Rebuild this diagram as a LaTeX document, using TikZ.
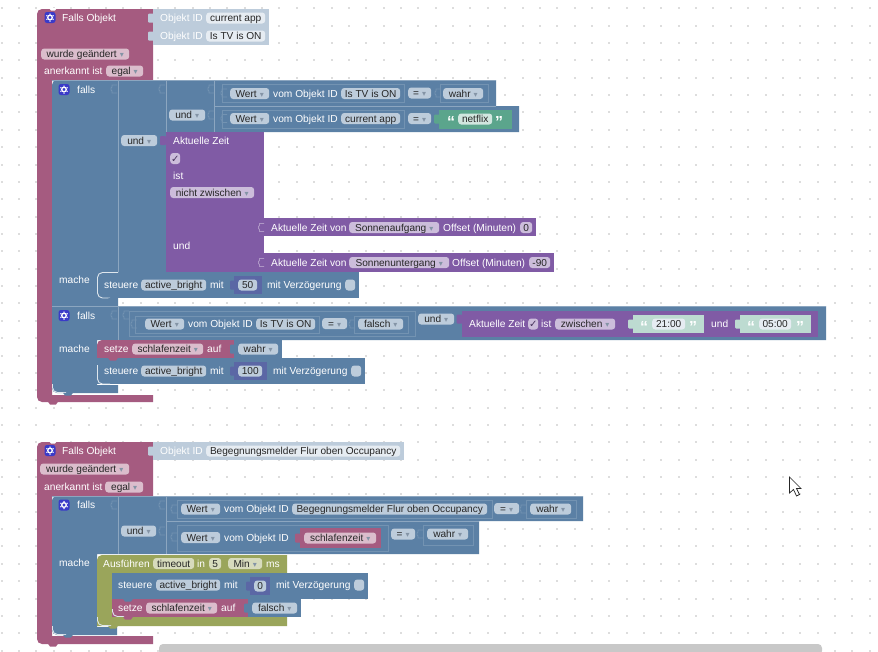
\documentclass[tikz,border=0pt]{standalone}
\usepackage{fontspec}
\usepackage{xcolor}
\setmainfont{Liberation Sans}
\newfontfamily\symfont{DejaVu Sans}
\usetikzlibrary{positioning,calc}

\definecolor{pinkb}{HTML}{A55B80}
\definecolor{pinkt}{HTML}{DBBDCC}
\definecolor{blueb}{HTML}{5B80A5}
\definecolor{bluet}{HTML}{BDCCDB}
\definecolor{bluel}{HTML}{8CA6C0}
\definecolor{purpb}{HTML}{805BA5}
\definecolor{purpt}{HTML}{CCBDDB}
\definecolor{greenb}{HTML}{5BA58C}
\definecolor{greent}{HTML}{BDDBD1}
\definecolor{oliveb}{HTML}{9AA55B}
\definecolor{olivet}{HTML}{D7DBBD}
\definecolor{indigob}{HTML}{5B67A5}
\definecolor{gearb}{HTML}{3A3AC8}
\definecolor{shadowp}{HTML}{E6ECF2}
\definecolor{dotc}{HTML}{DDDDDD}
\definecolor{dropc}{HTML}{8494A6}
\definecolor{barc}{HTML}{C8C8C8}

\newcommand{\dropm}{\hspace{3pt}{\symfont\fontsize{8}{8}\selectfont\textcolor{dropc}{▾}}}

\begin{document}
\begin{tikzpicture}[
    x=1pt, y=-1pt,
    lbl/.style={anchor=west, inner sep=0pt, text=white, text height=7.6pt, text depth=0pt, font=\fontsize{10.2}{12}\selectfont},
    pill/.style={anchor=west, inner sep=0pt, rounded corners=3pt, minimum height=11pt, text=black!85, text height=7.6pt, text depth=0pt, font=\fontsize{10.1}{12}\selectfont},
    pillb/.style={pill, fill=bluet},
    pillp/.style={pill, fill=pinkt},
    pillu/.style={pill, fill=purpt},
    pillg/.style={pill, fill=greent!70!white},
    pillo/.style={pill, fill=olivet},
    pills/.style={pill, fill=shadowp},
    checkb/.style={pill, fill=bluet, minimum width=10pt},
    checku/.style={pill, fill=purpt, minimum width=10pt, text=purpb!55!black, font=\symfont\fontsize{10}{10}\selectfont},
    quot/.style={anchor=center, inner sep=0pt, text=white, font=\bfseries\fontsize{16}{16}\selectfont},
    edge/.style={draw=bluel, line width=0.8pt},
    inbox/.style={draw=bluel!50!blueb, line width=0.8pt},
    corner/.style={draw=white!80!blueb, line width=0.9pt, rounded corners=5pt},
    tabline/.style={draw=bluel!50!blueb, line width=0.8pt},
    gearicon/.pic={
        \fill[gearb, rounded corners=2.5pt] (-5.5,-5.5) rectangle (5.5,5.5);
        \foreach \a in {30,90,...,330} {\fill[white] (\a:3.5) circle (0.75);}
        \draw[white, line width=1.3pt] (0,0) circle (2.3);
    }
]

\useasboundingbox (0,0) rectangle (878,651);
\fill[white] (0,0) rectangle (878,651);

% Workspace dots
\foreach \i in {0,...,50} {
    \foreach \j in {0,...,37} {
        \fill[dotc] ({1.7+17.36*\i-1},{8.3+17.36*\j-1}) rectangle ++(2,2);
    }
}

% First trigger block
\fill[pinkb] (153,402) [rounded corners=5pt] -- (37,402) -- (37,9) -- (62,9) [sharp corners] -- (153,9) -- (153,80) -- (52,80) -- (52,395) -- (153,395) -- cycle;
\pic at (50,17.5) {gearicon};
\node[lbl] (head1) at (62,17.5) {Falls Objekt};
\fill[bluet] (153,9) rectangle (269,45);
\node[lbl] (id1) at (160,18) {Objekt ID};
\node[pills, minimum width=59pt] (app1) at (206,18) {current app};
\node[lbl] (id2) at (160,36) {Objekt ID};
\node[pills, minimum width=59pt] (tv1) at (206,36) {Is TV is ON};
\node[pillp, minimum width=88pt] (chg1) at (41,54) {wurde geändert\dropm};
\node[lbl] (ack1) at (44,71) {anerkannt ist};
\node[pillp, minimum width=37pt] (any1) at (106,71) {egal\dropm};

% First condition
\fill[blueb] (52,86) [rounded corners=5pt] -- (52,80) -- (60,80) [sharp corners] -- (496,80) -- (496,106) -- (519,106) -- (519,132) -- (166,132) -- (166,272) -- (118,272) -- (118,306) -- (52,306) -- cycle;
\draw[edge] (52,80.4) -- (496,80.4);
\draw[edge] (118,80) -- (118,272);
\draw[edge] (166,80) -- (166,132);
\draw[edge] (214,80) -- (214,132);
\draw[edge] (214,106) -- (496,106);
\pic at (64,89.5) {gearicon};
\node[lbl] (if1) at (77,89.5) {falls};
\node[pillb, minimum width=36pt] (and1) at (169,115) {und\dropm};
\node[pillb, minimum width=36pt] (and2) at (121,140.5) {und\dropm};

% Compare rows
\draw[inbox] (222,84) rectangle (404,102.5);
\node[pillb, minimum width=39pt] (val1) at (230,93.5) {Wert\dropm};
\node[lbl] (of1) at (273,93.5) {vom Objekt ID};
\node[pillb, minimum width=59pt] (tv2) at (341,93.5) {Is TV is ON};
\node[pillb, minimum width=23pt] (eq1) at (408,93) {=\dropm};
\draw[inbox] (440,84) rectangle (488,102.5);
\node[pillb, minimum width=40pt] (yes1) at (443,93.5) {wahr\dropm};

\draw[inbox] (222,110) rectangle (404,128);
\node[pillb, minimum width=39pt] (val2) at (230,118.5) {Wert\dropm};
\node[lbl] (of2) at (273,118.5) {vom Objekt ID};
\node[pillb, minimum width=59pt] (app2) at (341,118.5) {current app};
\node[pillb, minimum width=23pt] (eq2) at (408,118.5) {=\dropm};
\fill[greenb] (439,110) rectangle (512,129);
\node[quot] (qa1) at (451,122) {“};
\node[pillg, minimum width=34pt] (nf1) at (458,119) {netflix};
\node[quot] (qb1) at (499,122) {”};

% Time block
\fill[purpb] (166,132) rectangle (264,272);
\fill[purpb] (264,218) rectangle (536,236);
\fill[purpb] (264,253) rectangle (554,271.5);
\node[lbl] (now1) at (173,140.5) {Aktuelle Zeit};
\node[checku] (chk1) at (170,158.5) {✓};
\node[lbl] (is1) at (173,175.5) {ist};
\node[pillu, minimum width=84pt] (nb1) at (170,192.5) {nicht zwischen\dropm};
\node[lbl] (and3) at (173,245.5) {und};
\node[lbl] (tm1) at (271,227.5) {Aktuelle Zeit von};
\node[pillu, minimum width=90pt] (sun1) at (349,227.5) {Sonnenaufgang\dropm};
\node[lbl] (off1) at (443,227.5) {Offset (Minuten)};
\node[pillu, minimum width=12pt] (num1) at (520,227.5) {0};
\node[lbl] (tm2) at (271,262.5) {Aktuelle Zeit von};
\node[pillu, minimum width=100pt] (sun2) at (349,262.5) {Sonnenuntergang\dropm};
\node[lbl] (off2) at (452,262.5) {Offset (Minuten)};
\node[pillu, minimum width=21pt] (num2) at (529,262.5) {-90};

% First action
\node[lbl] (do1) at (59,280) {mache};
\fill[blueb] (97,272) rectangle (359,298);
\draw[corner] (118,272.5) -- (97.5,272.5) -- (97.5,298) -- (110,298);
\node[lbl] (set1) at (104,285) {steuere};
\node[pillb, minimum width=65pt] (st1) at (141,285) {active\_bright};
\node[lbl] (by1) at (210,285) {mit};
\fill[indigob] (234,276) rectangle (262,294);
\node[pillb, minimum width=19pt] (num3) at (238,285) {50};
\node[lbl] (dl1) at (267,285) {mit Verzögerung};
\node[checkb] (chk2) at (345,285) {};

% Second condition
\fill[blueb] (52,306) -- (826,306) -- (826,340) -- (97,340) -- (97,385) -- (118,385) -- (118,393) [rounded corners=5pt] -- (52,393) -- (52,306) -- cycle;
\draw[edge] (52,306.4) -- (826,306.4);
\draw[edge] (118,306) -- (118,340);
\draw[corner] (52.5,384) -- (52.5,392.5) -- (66,392.5);
\pic at (64,315.5) {gearicon};
\node[lbl] (if2) at (77,315.5) {falls};
\draw[inbox] (129,311.5) rectangle (415,336.5);
\draw[inbox] (135,316) rectangle (319,333);
\node[pillb, minimum width=39pt] (val3) at (145,324) {Wert\dropm};
\node[lbl] (of3) at (188,324) {vom Objekt ID};
\node[pillb, minimum width=59pt] (tv3) at (256,324) {Is TV is ON};
\node[pillb, minimum width=25pt] (eq3) at (322,323.5) {=\dropm};
\draw[inbox] (354,316) rectangle (408,333);
\node[pillb, minimum width=45pt] (no1) at (358,324) {falsch\dropm};
\node[pillb, minimum width=36pt] (and4) at (418,319) {und\dropm};
\fill[purpb] (462,311) rectangle (818,337);
\node[lbl] (now2) at (469,324) {Aktuelle Zeit};
\node[checku] (chk3) at (528,324) {✓};
\node[lbl] (is2) at (541,324) {ist};
\node[pillu, minimum width=60pt] (bt1) at (555,324) {zwischen\dropm};
\fill[greent] (633,315) rectangle (704,333);
\node[quot] (qa2) at (644,327) {“};
\node[pills, minimum width=33pt] (tm3) at (652,324) {21:00};
\node[quot] (qb2) at (693,327) {”};
\node[lbl] (and5) at (711,324) {und};
\fill[greent] (740,315) rectangle (811,333);
\node[quot] (qa3) at (751,327) {“};
\node[pills, minimum width=32pt] (tm4) at (759,324) {05:00};
\node[quot] (qb3) at (800,327) {”};

% Second action
\node[lbl] (do2) at (59,349) {mache};
\fill[pinkb] (234,358) -- (97,358) [rounded corners=5pt] -- (97,340) -- (110,340) [sharp corners] -- (234,340) -- cycle;
\node[lbl] (put1) at (104,349) {setze};
\node[pillp, minimum width=71pt] (var1) at (132,349) {schlafenzeit\dropm};
\node[lbl] (to1) at (207,349) {auf};
\fill[blueb] (234,340) rectangle (282,358);
\node[pillb, minimum width=40pt] (yes2) at (238,349) {wahr\dropm};
\fill[blueb] (97,358) rectangle (365,384);
\draw[corner] (97.5,365) -- (97.5,384) -- (110,384);
\node[lbl] (set2) at (104,371) {steuere};
\node[pillb, minimum width=65pt] (st2) at (141,371) {active\_bright};
\node[lbl] (by2) at (210,371) {mit};
\fill[indigob] (234,362) rectangle (267,380);
\node[pillb, minimum width=24pt] (num4) at (238,371) {100};
\node[lbl] (dl2) at (273,371) {mit Verzögerung};
\node[checkb] (chk4) at (351,371) {};

% Second trigger block
\fill[pinkb] (153,644) [rounded corners=5pt] -- (37,644) -- (37,442) -- (62,442) [sharp corners] -- (153,442) -- (153,496) -- (52,496) -- (52,636) -- (153,636) -- cycle;
\pic at (50,450.5) {gearicon};
\node[lbl] (head2) at (62,450.5) {Falls Objekt};
\fill[bluet] (153,442) rectangle (404,460);
\node[lbl] (id3) at (160,451) {Objekt ID};
\node[pills, minimum width=194pt] (mot1) at (206,451) {Begegnungsmelder Flur oben Occupancy};
\node[pillp, minimum width=89pt] (chg2) at (40,469) {wurde geändert\dropm};
\node[lbl] (ack2) at (44,487) {anerkannt ist};
\node[pillp, minimum width=38pt] (any2) at (105,487) {egal\dropm};

% Third condition
\fill[blueb] (52,502) [rounded corners=5pt] -- (52,496) -- (60,496) [sharp corners] -- (583,496) -- (583,521) -- (479,521) -- (479,554) -- (118,554) -- (97,554) -- (97,627) -- (117,627) -- (117,635) [rounded corners=5pt] -- (52,635) -- (52,496) -- cycle;
\draw[edge] (52,496.4) -- (583,496.4);
\draw[edge] (118,496) -- (118,554);
\draw[edge] (166,496) -- (166,554);
\draw[edge] (166,521) -- (479,521);
\draw[corner] (52.5,626) -- (52.5,634.5) -- (66,634.5);
\pic at (64,505) {gearicon};
\node[lbl] (if3) at (77,505) {falls};
\node[pillb, minimum width=35pt] (and6) at (121,531) {und\dropm};
\draw[inbox] (177,500) rectangle (492,518);
\node[pillb, minimum width=39pt] (val4) at (181,509) {Wert\dropm};
\node[lbl] (of4) at (224,509) {vom Objekt ID};
\node[pillb, minimum width=195pt] (mot2) at (292,509) {Begegnungsmelder Flur oben Occupancy};
\node[pillb, minimum width=25pt] (eq4) at (494,508.5) {=\dropm};
\draw[inbox] (526,500) rectangle (576,518);
\node[pillb, minimum width=41pt] (yes3) at (530,509) {wahr\dropm};
\draw[inbox] (177,525) rectangle (388,551);
\node[pillb, minimum width=39pt] (val5) at (181,537.5) {Wert\dropm};
\node[lbl] (of5) at (224,537.5) {vom Objekt ID};
\fill[pinkb] (300,528) rectangle (381,548);
\node[pillp, minimum width=72pt] (var2) at (304,538) {schlafenzeit\dropm};
\node[pillb, minimum width=24pt] (eq5) at (391,534) {=\dropm};
\draw[inbox] (423,525) rectangle (473,545);
\node[pillb, minimum width=41pt] (yes4) at (427,534) {wahr\dropm};

% Timeout block
\node[lbl] (do3) at (59,563) {mache};
\fill[oliveb] (287,626) -- (97,626) [rounded corners=5pt] -- (97,555) -- (110,555) [sharp corners] -- (287,555) -- (287,573) -- (112,573) -- (112,617) -- (287,617) -- cycle;
\draw[corner] (97.5,617) -- (97.5,625.5) -- (111,625.5);
\node[lbl] (run1) at (103,563.5) {Ausführen};
\node[pillo, minimum width=41pt] (tout1) at (153,563.5) {timeout};
\node[lbl] (in1) at (197,563.5) {in};
\node[pillo, minimum width=12pt] (num5) at (209,563.5) {5};
\node[pillo, minimum width=34pt] (min1) at (228,563.5) {Min\dropm};
\node[lbl] (ms1) at (266,563.5) {ms};
\fill[blueb] (112,573) rectangle (368,599);
\node[lbl] (set3) at (118,585) {steuere};
\node[pillb, minimum width=64pt] (st3) at (156,585) {active\_bright};
\node[lbl] (by3) at (224,585) {mit};
\fill[indigob] (250,577) rectangle (270,595);
\node[pillb, minimum width=12pt] (num6) at (254,586) {0};
\node[lbl] (dl3) at (276,585) {mit Verzögerung};
\node[checkb] (chk5) at (354,585) {};
\fill[pinkb] (112,599) rectangle (248,617);
\draw[corner] (112.5,609) -- (112.5,616.5) -- (124,616.5);
\node[lbl] (put2) at (118,608) {setze};
\node[pillp, minimum width=71pt] (var3) at (146,608) {schlafenzeit\dropm};
\node[lbl] (to2) at (221,608) {auf};
\fill[blueb] (248,599) rectangle (301,617);
\node[pillb, minimum width=45pt] (no2) at (252,608) {falsch\dropm};

% Socket marks on the blue blocks
\foreach \x/\y in {112/89,160/89,209/89,222/93,209/115,222/118.5,436/93,112/315,124/315,132/324,350/324,112/505,160/505,160/531,172/509,172/537,521/509,418/534} {
    \draw[tabline] (\x+5,\y-4) -- (\x,\y-4) -- (\x,\y-2) -- (\x-1,\y-1) -- (\x-1,\y+1) -- (\x,\y+2) -- (\x,\y+4) -- (\x+5,\y+4);
}

% Socket marks on the time block
\foreach \y in {227.5,262.5} {
    \draw[draw=purpt!60!purpb, line width=0.8pt] (264,\y-4) -- (259.5,\y-4) -- (259.5,\y-2) -- (258.5,\y-1) -- (258.5,\y+1) -- (259.5,\y+2) -- (259.5,\y+4) -- (264,\y+4);
}

% Plugs of the value blocks
\foreach \x/\y/\c in {148/18/bluet,148/36/bluet,148/451/bluet,160/140.5/purpb,434/119/greenb,230/285/indigob,230/371/indigob,246/586/indigob,456.5/319/purpb,628/324/greent,735/324/greent,295/538/pinkb,230/349/blueb,244/608/blueb} {
    \fill[\c, rounded corners=1pt] (\x,\y-4.5) rectangle (\x+6,\y+4.5);
}

% Lower tabs of the statements
\foreach \x/\y/\c in {53/402/pinkb,68/393/blueb,53/644/pinkb,68/635/blueb,113/298/blueb,113/358/pinkb,128/599/blueb,113/626/oliveb,128/617/pinkb} {
    \fill[\c] (\x-5,\y-0.2) -- (\x-3,\y+2.5) -- (\x+3,\y+2.5) -- (\x+5,\y-0.2) -- cycle;
}

% Notches on the block heads
\foreach \x/\y in {53/9,53/442} {
    \fill[white] (\x-4,\y-1) -- (\x-2,\y+1.5) -- (\x+2,\y+1.5) -- (\x+4,\y-1) -- cycle;
}

% Scrollbar and mouse pointer
\fill[barc, rounded corners=4pt] (159,644) rectangle (822,655);
\coordinate (tip) at (789.5,477);
\filldraw[fill=white, draw=black!85, line width=0.7pt] (tip) -- ++(0,16) -- ++(4,-3.5) -- ++(3,6.5) -- ++(3,-1.5) -- ++(-3,-6) -- ++(4.5,0) -- cycle;

\end{tikzpicture}
\end{document}
